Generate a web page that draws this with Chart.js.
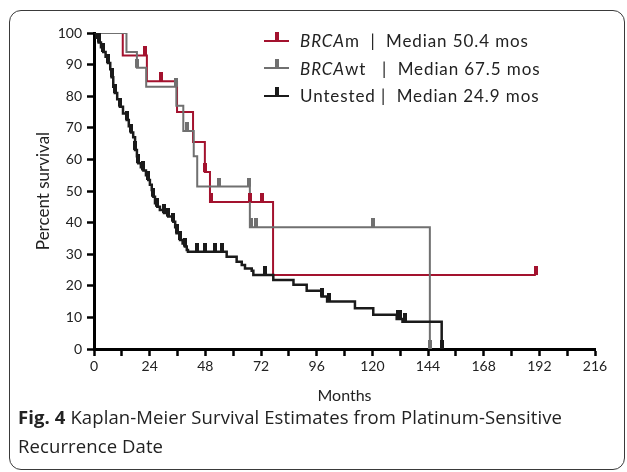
<!DOCTYPE html>
<html><head><meta charset="utf-8">
<script src="https://cdn.jsdelivr.net/npm/chart.js@4.4.0/dist/chart.umd.min.js"></script>
<style>
html,body{margin:0;padding:0;background:#fff;}
#wrap{position:relative;width:627px;height:472px;overflow:hidden;}
#frame{position:absolute;left:9px;top:10px;width:616px;height:460px;border:1.5px solid #3a3a3a;border-radius:12px;box-sizing:border-box;}
canvas{position:absolute;left:0;top:0;}
#legend{position:absolute;left:264px;top:27px;font-family:Lato,sans-serif;font-size:17px;letter-spacing:0.9px;color:#222;}
.row{height:27.5px;display:flex;align-items:center;white-space:pre;}
.sw{position:relative;width:25px;height:2px;margin-right:11px;}
.sw i{position:absolute;left:10.5px;top:-8px;width:4px;height:9px;}
#caption{position:absolute;left:18px;top:402px;font-family:'Open Sans',sans-serif;font-size:18.5px;line-height:29px;color:#222;letter-spacing:0.1px;}
</style></head>
<body>
<div id="wrap">
<div id="frame"></div>
<canvas id="c" width="627" height="472"></canvas>
<div id="legend">
 <div class="row"><span class="sw" style="background:#a3122e"><i style="background:#a3122e"></i></span><i>BRCA</i>m  |  Median 50.4 mos</div>
 <div class="row"><span class="sw" style="background:#707070"><i style="background:#707070"></i></span><i>BRCA</i>wt   |  Median 67.5 mos</div>
 <div class="row"><span class="sw" style="background:#1a1a1a"><i style="background:#1a1a1a"></i></span>Untested |  Median 24.9 mos</div>
</div>
<div id="caption"><b>Fig. 4</b> Kaplan-Meier Survival Estimates from Platinum-Sensitive<br>Recurrence Date</div>
</div>
<script>
// Survival step data: [month of step, percent surviving from that month on]
const brcamTimes  = [0, 12.4, 22.8, 35.8, 42.7, 47.8, 50.0, 77.2, 190.5];
const brcamSurv   = [100, 92.9, 84.7, 75.0, 65.5, 56.0, 46.5, 23.4, 23.4];
const brcamCensT  = [7.8, 10.5, 22.0, 28.9, 47.8, 50.5, 67.2, 72.4, 190.5];
const brcamCensS  = [100, 100, 92.9, 84.7, 56.0, 46.5, 46.5, 46.5, 23.4];

const brcawtTimes = [0, 14.0, 18.5, 22.5, 35.5, 38.5, 43.0, 44.5, 67.2, 144.8];
const brcawtSurv  = [100, 94.0, 89.0, 83.0, 77.0, 69.0, 61.0, 51.4, 38.5, 0];
const brcawtCensT = [2.5, 6.5, 12.0, 18.5, 35.5, 40.0, 54.0, 66.8, 67.5, 70.0, 120.1, 144.8];
const brcawtCensS = [100, 100, 100, 89.0, 83.0, 69.0, 51.4, 51.4, 38.5, 38.5, 38.5, 0];

const untestedTimes = [0, 1, 2, 3, 4, 5, 6, 7, 7.6, 8.3, 9, 10, 11.2, 12.5, 14.1, 15, 16, 16.9, 17.7, 18.5, 19.1, 20.2, 21.3, 22.4, 23.4, 24.1, 24.9, 25.6, 26.3, 27.3, 28.4, 30.2, 32, 34.2, 35, 35.6, 37.1, 38.2, 39.2, 40, 40.5, 57.2, 61.5, 63.7, 65.1, 68, 68.7, 77.3, 86, 91.7, 98.1, 100.5, 112.5, 120.4, 130.5, 133, 149.9];
const untestedSurv  = [100, 98.5, 97, 95.5, 94, 92.5, 90.5, 88.5, 86, 83, 81, 79, 76.7, 74.5, 72.5, 70.5, 68.5, 67, 63, 61, 58.8, 57.5, 56.5, 55, 53.5, 52, 50.3, 48.2, 46.1, 45, 44, 43, 41.9, 40.3, 38.5, 36.6, 34.5, 33.4, 32.4, 31.3, 30.8, 29.2, 27.6, 26.6, 25.5, 24.8, 23.4, 21.8, 20.3, 18.4, 16.6, 15, 12.9, 10.8, 9.5, 8.6, 0];
const untestedCensT = [2, 4, 6, 7.6, 9, 11.2, 14.1, 16, 17.7, 19.1, 21.3, 23.4, 25.6, 27.3, 30.2, 32, 34.2, 35.6, 37.1, 39.2, 44.3, 47.8, 52.2, 55, 73.7, 98.5, 101.5, 131, 132, 134, 150];
const untestedCensS = [97, 94, 90.5, 86, 81, 76.7, 72.5, 68.5, 63, 58.8, 56.5, 53.5, 48.2, 45, 43, 41.9, 40.3, 36.6, 34.5, 32.4, 30.8, 30.8, 30.8, 30.8, 23.4, 16.6, 15, 9.5, 9.5, 8.6, 0];

const xTicksMajor = [0, 24, 48, 72, 96, 120, 144, 168, 192, 216];
const yTicks = [0, 10, 20, 30, 40, 50, 60, 70, 80, 90, 100];

const RED = '#a3122e', GREY = '#707070', BLACK = '#1a1a1a';

function pts(t, s){ return t.map((x,i)=>({x:x, y:s[i]})); }
function tickImg(color){
  const c = document.createElement('canvas');
  c.width = 4; c.height = 18;
  const g = c.getContext('2d');
  g.fillStyle = color; g.fillRect(0, 0, 4, 9);
  return c;
}
function curve(label, t, s, color, w){
  return {label, data: pts(t,s), stepped: true, borderColor: color, borderWidth: w, pointRadius: 0, fill: false, order: 2};
}
function cens(label, t, s, color){
  return {label, data: pts(t,s), showLine: false, pointStyle: tickImg(color), pointRadius: 5, order: 1};
}

const tickFont = {family: 'Lato', size: 14};
new Chart(document.getElementById('c'), {
  type: 'line',
  data: {datasets: [
    curve('Untested', untestedTimes, untestedSurv, BLACK, 2.5),
    curve('BRCAwt', brcawtTimes, brcawtSurv, GREY, 2),
    curve('BRCAm', brcamTimes, brcamSurv, RED, 2),
    cens('Untested censored', untestedCensT, untestedCensS, BLACK),
    cens('BRCAwt censored', brcawtCensT, brcawtCensS, GREY),
    cens('BRCAm censored', brcamCensT, brcamCensS, RED)
  ]},
  options: {
    responsive: false, animation: false,
    layout: {padding: {left: 0, right: 32, top: 33, bottom: 66}},
    plugins: {legend: {display: false}, tooltip: {enabled: false}},
    scales: {
      x: {type: 'linear', min: 0, max: 216,
        ticks: {stepSize: 12, autoSkip: false, maxRotation: 0, padding: 2, color: '#222', font: tickFont,
          callback: v => xTicksMajor.includes(v) ? String(v) : ''},
        grid: {drawOnChartArea: false, tickLength: 7, tickWidth: 2.5, tickColor: '#000'},
        border: {color: '#000', width: 3},
        title: {display: true, text: 'Months', color: '#222', font: {family: 'Lato', size: 16}, padding: {top: 0, bottom: 1}},
        afterFit(s){ s.height = 57; }
      },
      y: {min: 0, max: 100,
        afterBuildTicks(s){ s.ticks = yTicks.map(v=>({value:v})); },
        ticks: {padding: 5, color: '#222', font: tickFont},
        grid: {drawOnChartArea: false, tickLength: 7, tickWidth: 2.5, tickColor: '#000'},
        border: {color: '#000', width: 3},
        title: {display: true, text: 'Percent survival', color: '#222', font: {family: 'Lato', size: 17}, padding: {top: 33, bottom: 0}},
        afterFit(s){ s.width = 94; }
      }
    }
  }
});
</script>
</body></html>
